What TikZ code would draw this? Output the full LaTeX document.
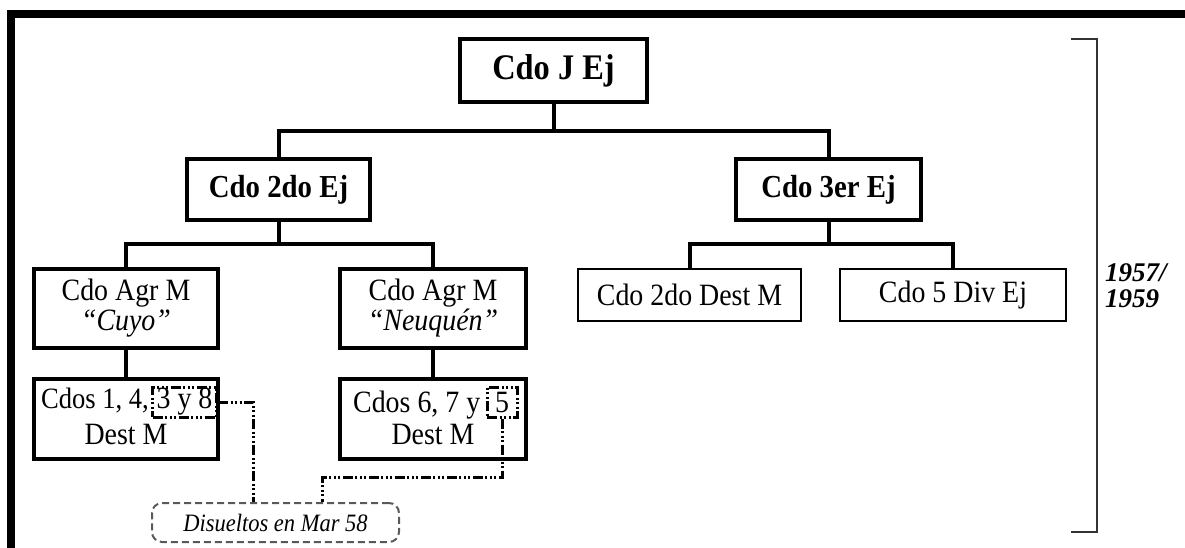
\documentclass[tikz,border=0pt]{standalone}
\usepackage{fontspec}
\setmainfont{Liberation Serif}[FakeStretch=0.9]
\newfontfamily\yearfont{Liberation Serif}
\begin{document}
\begin{tikzpicture}[x=1pt,y=-1pt,
  tbox/.style={draw, line width=4, inner sep=0, align=center},
  thinbox/.style={draw, line width=2, inner sep=0, align=center},
  bold/.style={font=\bfseries\fontsize{32}{34}\selectfont},
  reg/.style={font=\fontsize{31}{30}\selectfont},
  conn/.style={line width=4},
  dd/.style={line width=3, dash pattern=on 10 off 2.5 on 2 off 2.5 on 2 off 2.5 on 2 off 2.5},
  ddbox/.style={draw, dd, inner sep=0, reg},
  txt/.style={inner sep=0, reg}]
\useasboundingbox (0,0) rectangle (1185,548);
% frame
\draw[line width=8] (11,548) -- (11,14) -- (1185,14);
% bracket
\draw[line width=2, black!80] (1071,39) -- (1097,39) -- (1097,532) -- (1071,532);
\node[anchor=west, align=left, inner sep=0, font=\yearfont\bfseries\itshape\fontsize{27}{26}\selectfont] (yr) at (1105,286) {1957/\\1959};
% level 0
\node[tbox, minimum width=187, minimum height=63, font=\bfseries\fontsize{36}{38}\selectfont] (jej) at (553.5,70.5) {Cdo J Ej};
% level 1
\node[tbox, bold, minimum width=183, minimum height=61] (e2) at (278.5,189.5) {Cdo 2do Ej};
\node[tbox, bold, minimum width=185, minimum height=61] (e3) at (828.5,189.5) {Cdo 3er Ej};
% level 2
\node[tbox, reg, minimum width=184, minimum height=79] (cuyo) at (126,308.5) {Cdo Agr M\\\textit{“Cuyo”}};
\node[tbox, reg, minimum width=186, minimum height=79] (neuq) at (433,308.5) {Cdo Agr M\\\textit{“Neuquén”}};
\node[thinbox, reg, minimum width=223, minimum height=52] (dest2) at (689.5,295) {Cdo 2do Dest M};
\node[thinbox, reg, minimum width=226, minimum height=52] (div5) at (953,295) {Cdo 5 Div Ej};
% level 3
\node[tbox, minimum width=184, minimum height=80] (c14) at (126,419) {};
\node[tbox, minimum width=186, minimum height=80] (c67) at (433,419) {};
\node[ddbox, minimum width=64, minimum height=30] (b38) at (184.5,402) {3 y 8};
\node[ddbox, minimum width=30, minimum height=30] (b5) at (502,402) {5};
\node[txt, anchor=base east, font=\fontsize{29.5}{30}\selectfont] (t14) at ([xshift=-2]b38.base west) {Cdos 1, 4,};
\node[txt, anchor=base east] (t67) at ([xshift=-5]b5.base west) {Cdos 6, 7 y};
\node[txt, anchor=base] (d14) at (126,444) {Dest M};
\node[txt, anchor=base] (d67) at (433,444) {Dest M};
% note
\node[draw, line width=2, black!65, dash pattern=on 7 off 4, rounded corners=10, minimum width=247, minimum height=39, inner sep=0, text=black, font=\itshape\fontsize{25}{27}\selectfont] (dis) at (275.5,522.5) {Disueltos en Mar 58};
% connectors
\coordinate (j1) at (553.5,131);
\draw[conn] (jej.south) -- (j1);
\draw[conn] (j1) -| (e2.north);
\draw[conn] (j1) -| (e3.north);
\coordinate (k1) at (278.5,244);
\draw[conn] (e2.south) -- (k1);
\draw[conn] (k1) -| (cuyo.north);
\draw[conn] (k1) -| (neuq.north);
\coordinate (k2) at (828.5,244);
\draw[conn] (e3.south) -- (k2);
\draw[conn] (k2) -| (dest2.north);
\draw[conn] (k2) -| (div5.north);
\draw[conn] (cuyo.south) -- (c14.north);
\draw[conn] (neuq.south) -- (c67.north);
% dissolved connectors
\coordinate (dA) at (253,402);
\coordinate (dB) at (322,477);
\draw[dd] (b38.east) -- (dA) -- (dis.north -| dA);
\draw[dd] (b5.south) |- (dB) -- (dis.north -| dB);
\end{tikzpicture}
\end{document}
